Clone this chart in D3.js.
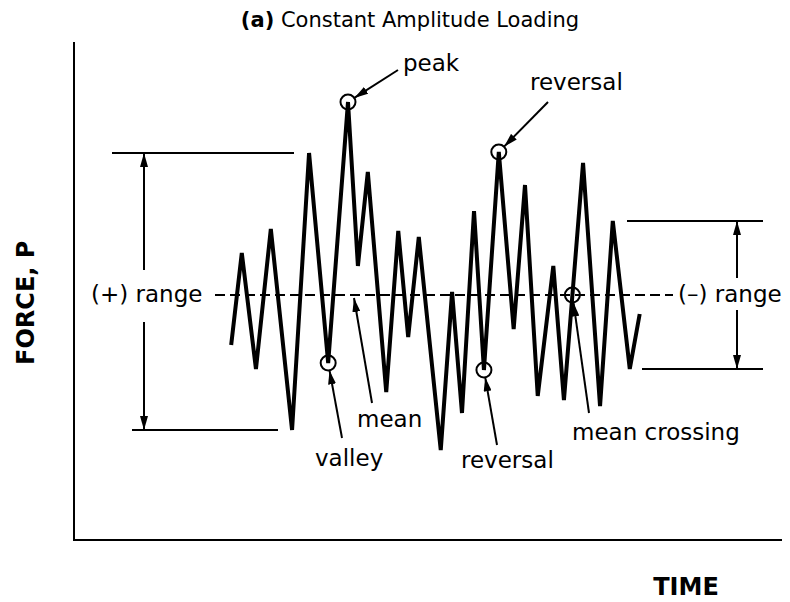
<!DOCTYPE html>
<html>
<head>
<meta charset="utf-8">
<script src="https://cdn.jsdelivr.net/npm/d3@7"></script>
<style>
  body { margin: 0; background: #fff; }
  text { font-family: "DejaVu Sans", Verdana, sans-serif; fill: #000; }
</style>
</head>
<body>
<div id="chart"></div>
<script>
// waveform turning points (time in arbitrary units, force relative to the mean)
var times  = [22.2, 23.7, 25.7, 27.8, 30.8, 33.2, 35.9, 38.7, 40.1, 41.5,
              44.1, 45.8, 47.2, 48.7, 51.8, 53.4, 54.8, 56.5, 57.9, 60.0,
              62.1, 63.7, 65.5, 67.7, 69.2, 71.9, 74.3, 76.1, 78.5, 79.9];
var forces = [-0.25, 0.21, -0.37, 0.33, -0.675, 0.71, -0.34, 0.965, 0.145, 0.615,
              -0.485, 0.32, -0.21, 0.29, -0.775, 0.015, -0.59, 0.42, -0.375, 0.715,
              -0.17, 0.55, -0.505, 0.145, -0.525, 0.66, -0.555, 0.37, -0.37, -0.095];

// circled points: index into the waveform, label, where the label sits
var marks = [
    {i: 7,  label: "peak",     lx: 403, ly: 71,  ax: 398, ay: 70},
    {i: 19, label: "reversal", lx: 530, ly: 90,  ax: 548, ay: 102},
    {i: 6,  label: "valley",   lx: 315, ly: 466, ax: 342, ay: 438},
    {i: 18, label: "reversal", lx: 461, ly: 468, ax: 497, ay: 445}
];
var crossingSeg = 24;   // segment 24 -> 25 crosses the mean (circled)

var ranges = [
    {top: 5,  bottom: 4,  label: "(+) range", ax: 144, topX: [112, 294], botX: [132, 278], lx: 91,  gap: [270, 322]},
    {top: 27, bottom: 28, label: "(\u2013) range", ax: 737, topX: [627, 763], botX: [642, 763], lx: 678, gap: [278, 310]}
];

var W = 790, H = 602;
var x = d3.scaleLinear().domain([0, 100]).range([74, 782]);
var y = d3.scaleLinear().domain([-1, 1]).range([495, 95]);

var svg = d3.select("#chart").append("svg")
    .attr("width", W).attr("height", H);

var defs = svg.append("defs");
defs.append("marker")
    .attr("id", "head")
    .attr("viewBox", "0 -4 14 8")
    .attr("refX", 14).attr("refY", 0)
    .attr("markerWidth", 14).attr("markerHeight", 8)
    .attr("markerUnits", "userSpaceOnUse")
    .attr("orient", "auto")
  .append("path")
    .attr("d", "M0,-4L14,0L0,4Z")
    .attr("fill", "#000");

// title
var title = svg.append("text")
    .attr("x", 410).attr("y", 27)
    .attr("text-anchor", "middle")
    .style("font-size", "21px");
title.append("tspan").style("font-weight", "bold").text("(a)");
title.append("tspan").text(" Constant Amplitude Loading");

// axes frame
svg.append("line")
    .attr("x1", x(0)).attr("x2", x(0))
    .attr("y1", 42).attr("y2", 540)
    .attr("stroke", "#000").attr("stroke-width", 2);
svg.append("line")
    .attr("x1", x(0) - 1).attr("x2", x(100))
    .attr("y1", 540).attr("y2", 540)
    .attr("stroke", "#000").attr("stroke-width", 2);

svg.append("text")
    .attr("transform", "translate(34,365) rotate(-90)")
    .style("font-size", "24px").style("font-weight", "bold")
    .text("FORCE, P");
svg.append("text")
    .attr("x", 686).attr("y", 595)
    .attr("text-anchor", "middle")
    .style("font-size", "24px").style("font-weight", "bold")
    .text("TIME");

// mean line
svg.append("line")
    .attr("x1", 215).attr("x2", 673)
    .attr("y1", y(0)).attr("y2", y(0))
    .attr("stroke", "#000").attr("stroke-width", 2)
    .attr("stroke-dasharray", "10,5");

// range brackets
ranges.forEach(function(r) {
    var yt = y(forces[r.top]), yb = y(forces[r.bottom]);
    svg.append("line").attr("x1", r.topX[0]).attr("x2", r.topX[1])
        .attr("y1", yt).attr("y2", yt).attr("stroke", "#000").attr("stroke-width", 2);
    svg.append("line").attr("x1", r.botX[0]).attr("x2", r.botX[1])
        .attr("y1", yb).attr("y2", yb).attr("stroke", "#000").attr("stroke-width", 2);
    svg.append("line").attr("x1", r.ax).attr("x2", r.ax)
        .attr("y1", r.gap[0]).attr("y2", yt)
        .attr("stroke", "#000").attr("stroke-width", 2).attr("marker-end", "url(#head)");
    svg.append("line").attr("x1", r.ax).attr("x2", r.ax)
        .attr("y1", r.gap[1]).attr("y2", yb)
        .attr("stroke", "#000").attr("stroke-width", 2).attr("marker-end", "url(#head)");
    svg.append("text").attr("x", r.lx).attr("y", y(0) + 7)
        .style("font-size", "23px").text(r.label);
});

// waveform
var pts = times.map(function(t, i) { return [t, forces[i]]; });
var line = d3.line().x(function(d) { return x(d[0]); }).y(function(d) { return y(d[1]); });
svg.append("path")
    .datum(pts)
    .attr("d", line)
    .attr("fill", "none")
    .attr("stroke", "#000")
    .attr("stroke-width", 4);

// circles + pointers
var R = 7.5;
function pointer(cx, cy, sx, sy) {
    var dx = sx - cx, dy = sy - cy, len = Math.sqrt(dx * dx + dy * dy);
    svg.append("line")
        .attr("x1", sx).attr("y1", sy)
        .attr("x2", cx + dx / len * R).attr("y2", cy + dy / len * R)
        .attr("stroke", "#000").attr("stroke-width", 2)
        .attr("marker-end", "url(#head)");
}
function ring(cx, cy) {
    svg.append("circle").attr("cx", cx).attr("cy", cy).attr("r", R)
        .attr("fill", "none").attr("stroke", "#000").attr("stroke-width", 2);
}

marks.forEach(function(m) {
    var cx = x(times[m.i]), cy = y(forces[m.i]);
    ring(cx, cy);
    pointer(cx, cy, m.ax, m.ay);
    svg.append("text").attr("x", m.lx).attr("y", m.ly)
        .style("font-size", "23px").text(m.label);
});

// mean crossing on segment crossingSeg
var a = crossingSeg, f = forces[a] / (forces[a] - forces[a + 1]);
var tc = times[a] + f * (times[a + 1] - times[a]);
ring(x(tc), y(0));
pointer(x(tc), y(0), 589, 413);
svg.append("text").attr("x", 572).attr("y", 440)
    .style("font-size", "23px").text("mean crossing");

// mean pointer (to the dashed line)
svg.append("line")
    .attr("x1", 372).attr("y1", 403)
    .attr("x2", 354).attr("y2", y(0) + 3)
    .attr("stroke", "#000").attr("stroke-width", 2)
    .attr("marker-end", "url(#head)");
svg.append("text").attr("x", 357).attr("y", 427)
    .style("font-size", "23px").text("mean");
</script>
</body>
</html>
